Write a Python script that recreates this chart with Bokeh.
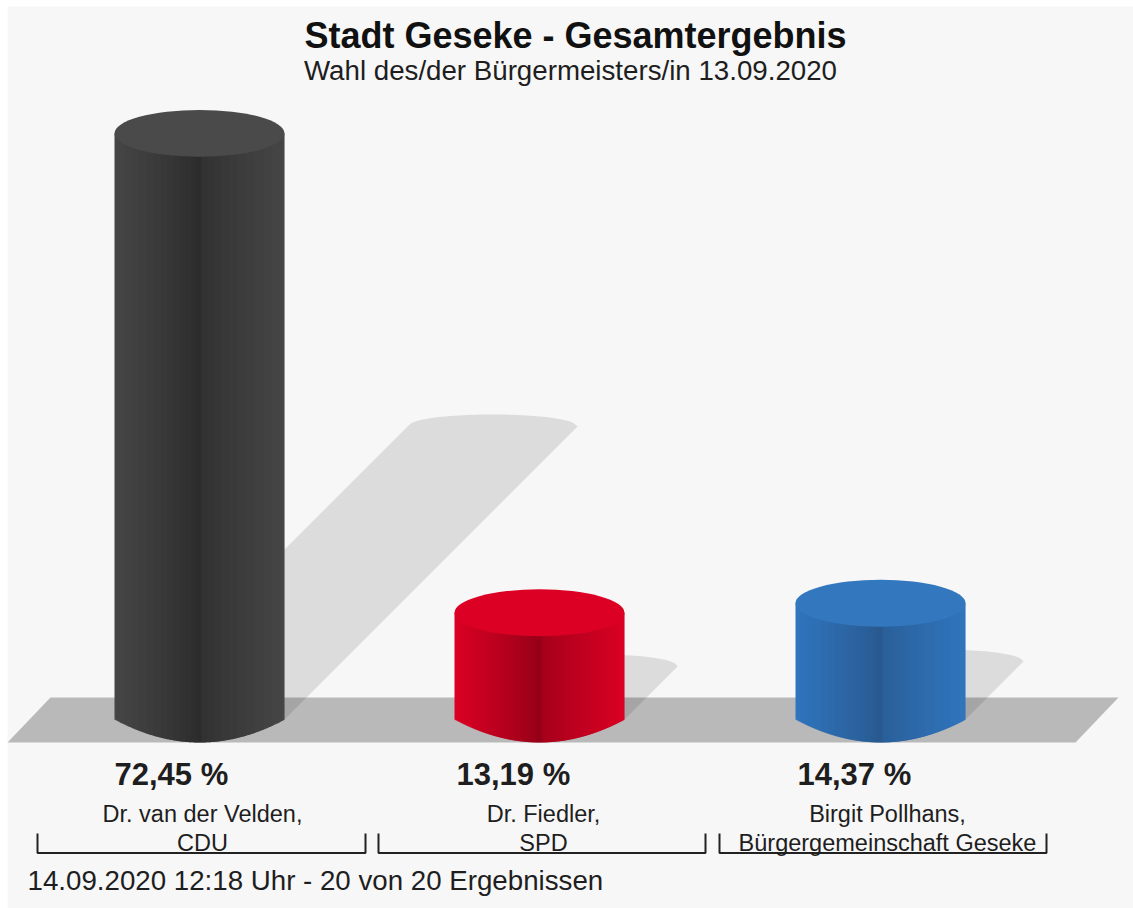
from bokeh.embed import file_html
from bokeh.resources import INLINE
from bokeh.plotting import figure
from bokeh.models import Range1d, ColumnDataSource
from bokeh.core.properties import value

# ---- data ----
title_text = "Stadt Geseke - Gesamtergebnis"
subtitle_text = "Wahl des/der Bürgermeisters/in 13.09.2020"
footer_text = "14.09.2020 12:18 Uhr - 20 von 20 Ergebnissen"
candidates = ["Dr. van der Velden,", "Dr. Fiedler,", "Birgit Pollhans,"]
parties = ["CDU", "SPD", "Bürgergemeinschaft Geseke"]
shares = [72.45, 13.19, 14.37]
share_labels = ["72,45 %", "13,19 %", "14,37 %"]
edge_colors = [(0x46, 0x46, 0x46), (0xDA, 0x00, 0x24), (0x30, 0x75, 0xBD)]
core_colors = [(0x2C, 0x2C, 0x2C), (0x94, 0x00, 0x18), (0x29, 0x59, 0x8E)]
cap_colors = ["#4a4a4a", "#dc0024", "#3377bf"]

# ---- layout (page pixels) ----
W, H = 1133, 908
BASE_PX = 719
PX_PER_PCT = 8.09
CENTERS_PX = [199, 539, 880]
HALF_W = 85
CAP_RY = 23.5
BOTTOM_DEPTH = 23


def Y(px):
    return (BASE_PX - px) / PX_PER_PCT


p = figure(width=W, height=H, output_backend="svg", toolbar_location=None,
           x_axis_type=None, y_axis_type=None,
           x_range=Range1d(0, W), y_range=Range1d(Y(H), Y(0)),
           min_border=0, outline_line_color=None,
           background_fill_color="#ffffff", border_fill_color="#ffffff")
p.grid.visible = False

# panel
p.quad(left=[7], right=[W], top=[Y(6)], bottom=[Y(H)], fill_color="#f7f7f7", line_color=None)

# floor
p.patch([7, 50, 1118, 1075], [Y(742), Y(697), Y(697), Y(742)],
        fill_color="#b9b9b9", line_color=None)

# shadows, thrown at 45 degrees with half the height of the column
N_ARC = 40
SHADOW_RY = 12
for share, cx in zip(shares, CENTERS_PX):
    off_px = share * PX_PER_PCT * 0.5
    top_cx, top_cy = cx + off_px, BASE_PX - off_px
    xs = [cx - HALF_W]
    ys = [Y(BASE_PX)]
    for i in range(N_ARC + 1):
        t = -1 + 2 * i / N_ARC
        xs.append(top_cx + t * HALF_W)
        ys.append(Y(top_cy - SHADOW_RY * (1 - t * t) ** 0.5))
    xs.append(cx + HALF_W)
    ys.append(Y(BASE_PX))
    p.patch(xs, ys, fill_color="#000000", fill_alpha=0.105, line_color=None)

# column bodies: shaded vertical strips from the curved foot up to the share
for share, cx, edge, core, cap in zip(shares, CENTERS_PX, edge_colors, core_colors, cap_colors):
    left, right, top, bottom, color = [], [], [], [], []
    for px in range(-HALF_W, HALF_W):
        t = (px + 0.5) / HALF_W
        f = abs(t) ** 0.85
        if t > 0.02:
            f = min(1.0, f + 0.18 * (1 - f))
        c = tuple(int(round(a + (b - a) * f)) for a, b in zip(core, edge))
        left.append(cx + px)
        right.append(cx + px + 1.6 if px < HALF_W - 1 else cx + px + 1)
        top.append(share)
        bottom.append(Y(BASE_PX + BOTTOM_DEPTH * (1 - t * t)))
        color.append("#%02x%02x%02x" % c)
    p.quad(left="left", right="right", top="top", bottom="bottom", fill_color="color", line_color=None,
           source=ColumnDataSource(dict(left=left, right=right, top=top, bottom=bottom, color=color)))
    p.ellipse(x=[cx], y=[share], width=[2 * HALF_W], height=[2 * CAP_RY / PX_PER_PCT],
              fill_color=cap, line_color=None)

# brackets under the labels
BR_LEFT = [37, 378, 719]
BR_RIGHT = [365, 705, 1046]
p.multi_line([[a, a, b, b] for a, b in zip(BR_LEFT, BR_RIGHT)],
             [[Y(833), Y(852.5), Y(852.5), Y(833)] for _ in BR_LEFT],
             line_color="#222222", line_width=2)


def label(px, py, s, size, style="normal", align="center", color="#1e1e1e"):
    p.text([px], [Y(py)], text=[s], text_font=value("Liberation Sans"),
           text_font_size=size, text_font_style=style, text_align=align,
           text_baseline="middle", text_color=color)


label(575, 35, title_text, "36px", "bold", color="#111111")
label(570, 70, subtitle_text, "27.7px")
LABEL_CX = [202, 543, 887]
VALUE_X = [114, 456, 797]
for i in range(3):
    label(VALUE_X[i], 774, share_labels[i], "31px", "bold", "left")
    label(LABEL_CX[i], 813, candidates[i], "23.5px")
    label(LABEL_CX[i], 842, parties[i], "23.5px")
label(27, 880, footer_text, "27.7px", align="left")

open("out.html", "w").write(file_html(p, INLINE))
